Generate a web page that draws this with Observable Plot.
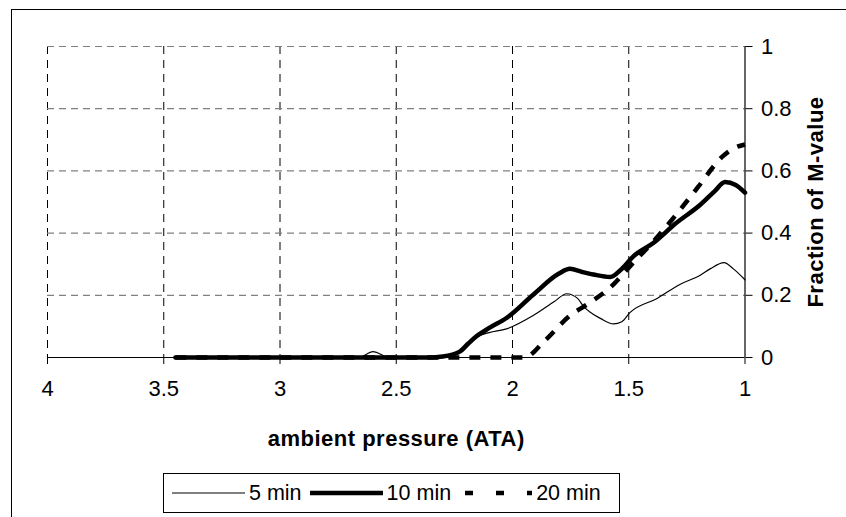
<!DOCTYPE html>
<html>
<head>
<meta charset="utf-8">
<script src="https://cdn.jsdelivr.net/npm/d3@7"></script>
<script src="https://cdn.jsdelivr.net/npm/@observablehq/plot@0.6"></script>
<style>
  html, body { margin: 0; padding: 0; background: #fff; }
  #wrap { position: relative; width: 846px; height: 517px; overflow: hidden; font-family: "Liberation Sans", Arial, sans-serif; }
  #frame { position: absolute; left: 11px; top: 9px; width: 900px; height: 600px; border-left: 1.5px solid #000; border-top: 1.5px solid #000; }
  #chart { position: absolute; left: 0; top: 0; }
  #chart g[aria-label="x-axis label"] text,
  #chart g[aria-label="y-axis label"] text { font-weight: bold; font-size: 22px; letter-spacing: 0.5px; fill: #000; }
  #legend { position: absolute; left: 163px; top: 473px; width: 457px; height: 40px; border: 1px solid #000; background: #fff;
            display: flex; align-items: center; padding-left: 8px; box-sizing: border-box; font-size: 21.5px; }
  #legend .item { display: flex; align-items: center; }
  #legend span { margin-left: 4px; margin-right: 8px; white-space: nowrap; }
</style>
</head>
<body>
<div id="wrap">
  <div id="frame"></div>
  <div id="chart"></div>
  <div id="legend"></div>
</div>
<script>
// ---- data ----
const seriesNames = ["5 min", "10 min", "20 min"];

const p5 = [3.45, 2.7, 2.66, 2.6, 2.53, 2.33, 2.25, 2.2, 2.155, 2.1, 2.026, 1.911, 1.82, 1.767, 1.72, 1.695, 1.62, 1.565, 1.53, 1.494, 1.378, 1.28, 1.191, 1.15, 1.09, 1.05, 1.0];
const v5 = [0, 0, 0, 0.019, 0, 0, 0.01, 0.04, 0.066, 0.08, 0.092, 0.135, 0.18, 0.205, 0.19, 0.165, 0.125, 0.108, 0.115, 0.145, 0.19, 0.235, 0.265, 0.285, 0.305, 0.285, 0.25];

const p10 = [3.45, 2.36, 2.3, 2.227, 2.19, 2.155, 2.1, 2.026, 1.911, 1.8, 1.753, 1.7, 1.652, 1.58, 1.53, 1.479, 1.393, 1.3, 1.191, 1.13, 1.086, 1.04, 1.0];
const v10 = [0, 0, 0.003, 0.019, 0.045, 0.068, 0.095, 0.127, 0.202, 0.27, 0.285, 0.275, 0.267, 0.259, 0.285, 0.326, 0.369, 0.43, 0.492, 0.535, 0.564, 0.555, 0.53];

const p20 = [3.45, 1.95, 1.86, 1.76, 1.66, 1.58, 1.49, 1.38, 1.29, 1.2, 1.1, 1.05, 1.0];
const v20 = [0, 0, 0.055, 0.13, 0.18, 0.225, 0.297, 0.385, 0.465, 0.55, 0.644, 0.672, 0.685];

const xTicks = [4, 3.5, 3, 2.5, 2, 1.5, 1];
const yTicks = [0, 0.2, 0.4, 0.6, 0.8, 1];

const xTitle = "ambient pressure (ATA)";
const yTitle = "Fraction of M-value";

const toRows = (ps, vs) => ps.map((p, i) => ({p, v: vs[i]}));
const d5 = toRows(p5, v5), d10 = toRows(p10, v10), d20 = toRows(p20, v20);

const chart = Plot.plot({
  width: 846,
  height: 460,
  marginLeft: 47,
  marginRight: 101.5,
  marginTop: 46,
  marginBottom: 103,
  style: { fontFamily: "'Liberation Sans', Arial, sans-serif", fontSize: "22px", background: "transparent", color: "#000" },
  x: { domain: [4, 1] },
  y: { domain: [0, 1] },
  marks: [
    Plot.gridX(xTicks.slice(0, -1), { stroke: "#000", strokeOpacity: 1, strokeWidth: 1, strokeDasharray: "8,6" }),
    Plot.gridY(yTicks.slice(1), { stroke: "#808080", strokeOpacity: 1, strokeWidth: 1.2, strokeDasharray: "7,5" }),
    Plot.ruleY([0], { stroke: "#000", strokeWidth: 1.2 }),
    Plot.ruleX([1], { stroke: "#000", strokeWidth: 1.2 }),
    Plot.axisX({ ticks: xTicks, tickSize: 7, tickPadding: 16, tickFormat: d => String(d),
                 label: xTitle, labelAnchor: "center", labelArrow: "none", labelOffset: 88 }),
    Plot.axisY({ anchor: "right", ticks: yTicks, tickSize: 7, tickPadding: 9, tickFormat: d => String(d),
                 label: yTitle, labelAnchor: "center", labelArrow: "none", labelOffset: 78 }),
    Plot.line(d5, { x: "p", y: "v", stroke: "#000", strokeWidth: 1.2, curve: "monotone-x" }),
    Plot.line(d20, { x: "p", y: "v", stroke: "#000", strokeWidth: 4.5, strokeDasharray: "11,10", strokeLinecap: "butt", curve: "monotone-x" }),
    Plot.line(d10, { x: "p", y: "v", stroke: "#000", strokeWidth: 4.5, curve: "monotone-x" })
  ]
});
document.getElementById("chart").appendChild(chart);

// ---- legend ----
const legendStyles = [
  { w: 1.2, dash: null },
  { w: 4.5, dash: null },
  { w: 4.5, dash: "8,23", offset: -6 }
];
const legend = document.getElementById("legend");
seriesNames.forEach((name, i) => {
  const item = document.createElement("div");
  item.className = "item";
  const s = d3.create("svg").attr("width", 73).attr("height", 12);
  const ln = s.append("line").attr("x1", 0).attr("x2", 73).attr("y1", 6).attr("y2", 6)
    .attr("stroke", "#000").attr("stroke-width", legendStyles[i].w);
  if (legendStyles[i].dash) ln.attr("stroke-dasharray", legendStyles[i].dash).attr("stroke-dashoffset", legendStyles[i].offset);
  item.appendChild(s.node());
  const t = document.createElement("span");
  t.textContent = name;
  item.appendChild(t);
  legend.appendChild(item);
});
</script>
</body>
</html>
